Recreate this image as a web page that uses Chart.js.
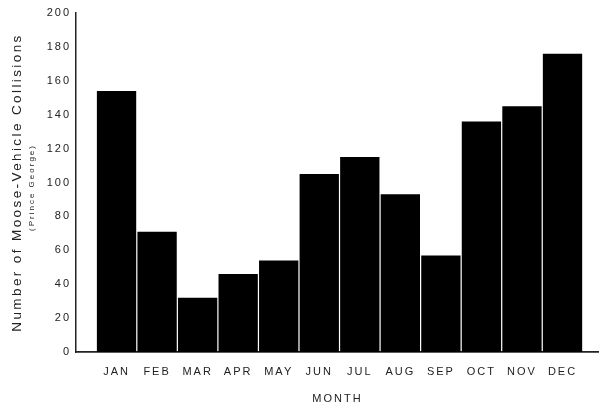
<!DOCTYPE html>
<html>
<head>
<meta charset="utf-8">
<script src="https://cdn.jsdelivr.net/npm/chart.js@4/dist/chart.umd.min.js"></script>
<style>
html,body{margin:0;padding:0;background:#fff;}
#wrap{width:599px;height:406px;position:relative;}
</style>
</head>
<body>
<div id="wrap"><canvas id="c"></canvas></div>
<script>
const months = ['JAN','FEB','MAR','APR','MAY','JUN','JUL','AUG','SEP','OCT','NOV','DEC'];
const collisions = [154, 71, 32, 46, 54, 105, 115, 93, 57, 136, 145, 176];
const yTicks = [0, 20, 40, 60, 80, 100, 120, 140, 160, 180, 200];
const yTitle = 'Number of Moose-Vehicle Collisions';
const ySubTitle = '(Prince George)';
const xTitle = 'MONTH';

const FONT = "'Liberation Sans', Arial, sans-serif";

const spacingPlugin = {
  id: 'spacing',
  beforeLayout(chart) { chart.ctx.letterSpacing = '2px'; },
  beforeDraw(chart) { chart.ctx.letterSpacing = '2px'; },
  afterDraw(chart) {
    const ctx = chart.ctx;
    const area = chart.chartArea;
    const cy = (area.top + area.bottom) / 2;
    ctx.save();
    ctx.fillStyle = '#222';
    ctx.textAlign = 'center';
    ctx.textBaseline = 'middle';
    ctx.translate(17, cy + 1);
    ctx.rotate(-Math.PI / 2);
    ctx.font = '13.5px ' + FONT;
    ctx.letterSpacing = '2.4px';
    ctx.fillText(yTitle, 1, 0);
    ctx.restore();
    ctx.save();
    ctx.fillStyle = '#222';
    ctx.textAlign = 'center';
    ctx.textBaseline = 'middle';
    ctx.translate(32, cy + 6);
    ctx.rotate(-Math.PI / 2);
    ctx.font = '8px ' + FONT;
    ctx.letterSpacing = '2px';
    ctx.fillText(ySubTitle, 1, 0);
    ctx.restore();
  }
};

new Chart(document.getElementById('c'), {
  type: 'bar',
  data: {
    datasets: [{
      data: collisions.map((v, i) => ({ x: i + 1, y: v })),
      backgroundColor: '#000',
      borderWidth: 0,
      barPercentage: 0.97,
      categoryPercentage: 1
    }]
  },
  options: {
    responsive: true,
    maintainAspectRatio: false,
    animation: false,
    events: [],
    layout: { padding: { left: 46, top: 13, right: 0, bottom: 0 } },
    plugins: { legend: { display: false }, tooltip: { enabled: false } },
    scales: {
      x: {
        type: 'linear',
        offset: false,
        min: 0,
        max: 12.9,
        grid: { display: false, drawTicks: false },
        border: { display: true, color: '#222', width: 1.8 },
        afterBuildTicks(scale) { scale.ticks = months.map((m, i) => ({ value: i + 1 })); },
        afterFit(scale) { scale.height = 54; },
        ticks: {
          autoSkip: false,
          maxRotation: 0,
          padding: 13,
          color: '#222',
          font: { family: FONT, size: 11 },
          callback: (v) => months[v - 1]
        },
        title: {
          display: true,
          text: xTitle,
          color: '#222',
          font: { family: FONT, size: 11 },
          padding: { top: 0, bottom: 0 }
        }
      },
      y: {
        min: 0,
        max: 200,
        grid: { display: false, drawTicks: false },
        border: { display: true, color: '#222', width: 1.5 },
        afterBuildTicks(scale) { scale.ticks = yTicks.map(v => ({ value: v })); },
        afterFit(scale) { scale.width = 30; },
        ticks: {
          padding: 5,
          color: '#222',
          font: { family: FONT, size: 11 }
        }
      }
    }
  },
  plugins: [spacingPlugin]
});
</script>
</body>
</html>
